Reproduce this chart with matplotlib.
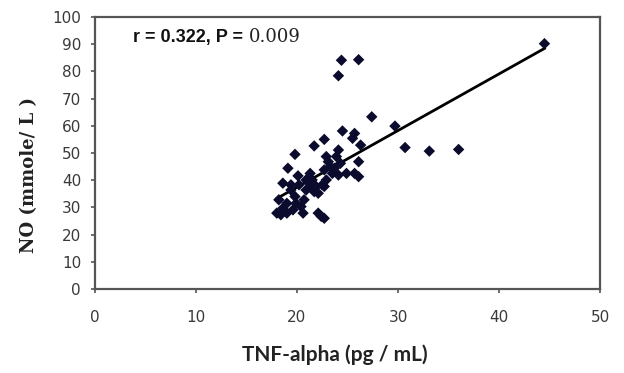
import numpy as np
import matplotlib
matplotlib.use("Agg")
import matplotlib.pyplot as plt

tnf = [44.5, 24.4, 26.1, 24.1, 27.4, 29.7, 30.7, 33.1, 36.0, 24.5, 22.7, 21.7,
       19.8, 19.1, 18.6, 18.2, 18.0, 25.7, 25.5, 26.3, 26.1, 25.7, 26.1, 24.1,
       23.9, 22.9, 23.3, 22.1, 22.7, 22.4, 20.6, 20.4, 20.7, 20.2, 20.1, 21.3,
       21.5, 21.7, 21.9, 22.5, 22.9, 23.5, 24.1, 23.7, 24.3, 19.4, 19.8, 19.0,
       18.6, 18.4, 19.0, 19.6, 19.9, 20.9, 21.3, 22.7, 23.1, 22.7, 22.1, 20.9,
       24.9, 19.4]
no = [90.2, 84.1, 84.3, 78.4, 63.3, 59.9, 52.0, 50.7, 51.3, 58.1, 55.0, 52.6,
      49.5, 44.4, 38.9, 32.8, 27.9, 57.2, 55.4, 52.9, 46.8, 42.5, 41.3, 51.1,
      48.7, 48.7, 45.0, 27.9, 26.0, 26.7, 27.9, 30.3, 32.8, 38.3, 41.6, 42.5,
      40.1, 35.8, 37.7, 38.3, 40.1, 42.5, 41.9, 44.4, 46.2, 36.4, 34.0, 31.5,
      29.7, 27.3, 27.9, 29.1, 31.5, 36.4, 37.7, 43.8, 46.8, 37.7, 35.2, 40.1,
      42.5, 38.3]
xticks = [0, 10, 20, 30, 40, 50]
yticks = list(range(0, 101, 10))

fig = plt.figure(figsize=(6.24, 3.73), dpi=100)
ax = fig.add_axes([95/624, 1-289/373, 505/624, 272/373])

x = np.array(tnf); y = np.array(no)
slope, intercept = np.polyfit(x, y, 1)
xl = np.array([x.min(), x.max()])
ax.plot(xl, slope*xl + intercept, color='black', lw=2.0, zorder=2)
ax.scatter(x, y, marker='D', s=34, color='#0b0b2e', edgecolors='none', zorder=3)

ax.set_xlim(0, 50)
ax.set_ylim(0, 100)
ax.set_xticks(xticks)
ax.set_yticks(yticks)
for s in ax.spines.values():
    s.set_color('#555555'); s.set_linewidth(1.6)
ax.tick_params(direction='out', length=3, width=1.2, color='#555555',
               labelsize=11, labelcolor='#3a3a3a')
ax.tick_params(axis='x', pad=12)
ax.tick_params(axis='y', pad=7)
for lab in ax.get_xticklabels() + ax.get_yticklabels():
    lab.set_family('DejaVu Sans')

ax.set_xlabel('TNF-alpha (pg / mL)', fontsize=15, fontweight='bold',
              family='Lato', color='#222222')
ax.xaxis.set_label_coords(0.475, -0.205)
ax.set_ylabel('NO (mmole/ L )', fontsize=13, fontweight='bold',
              family='DejaVu Serif', color='#222222')
ax.yaxis.set_label_coords(-0.113, 0.42)

t1 = ax.text(0.075, 0.925, 'r = 0.322, P =', transform=ax.transAxes, fontsize=13,
             fontweight='bold', family='Liberation Sans', color='#111111', va='center')
ax.annotate('0.009', xy=(1, 0.5), xycoords=t1, xytext=(4, 0), textcoords='offset points',
            fontsize=13, family='DejaVu Serif', color='#222222', va='center', ha='left')

fig.savefig('out.png', dpi=100)
